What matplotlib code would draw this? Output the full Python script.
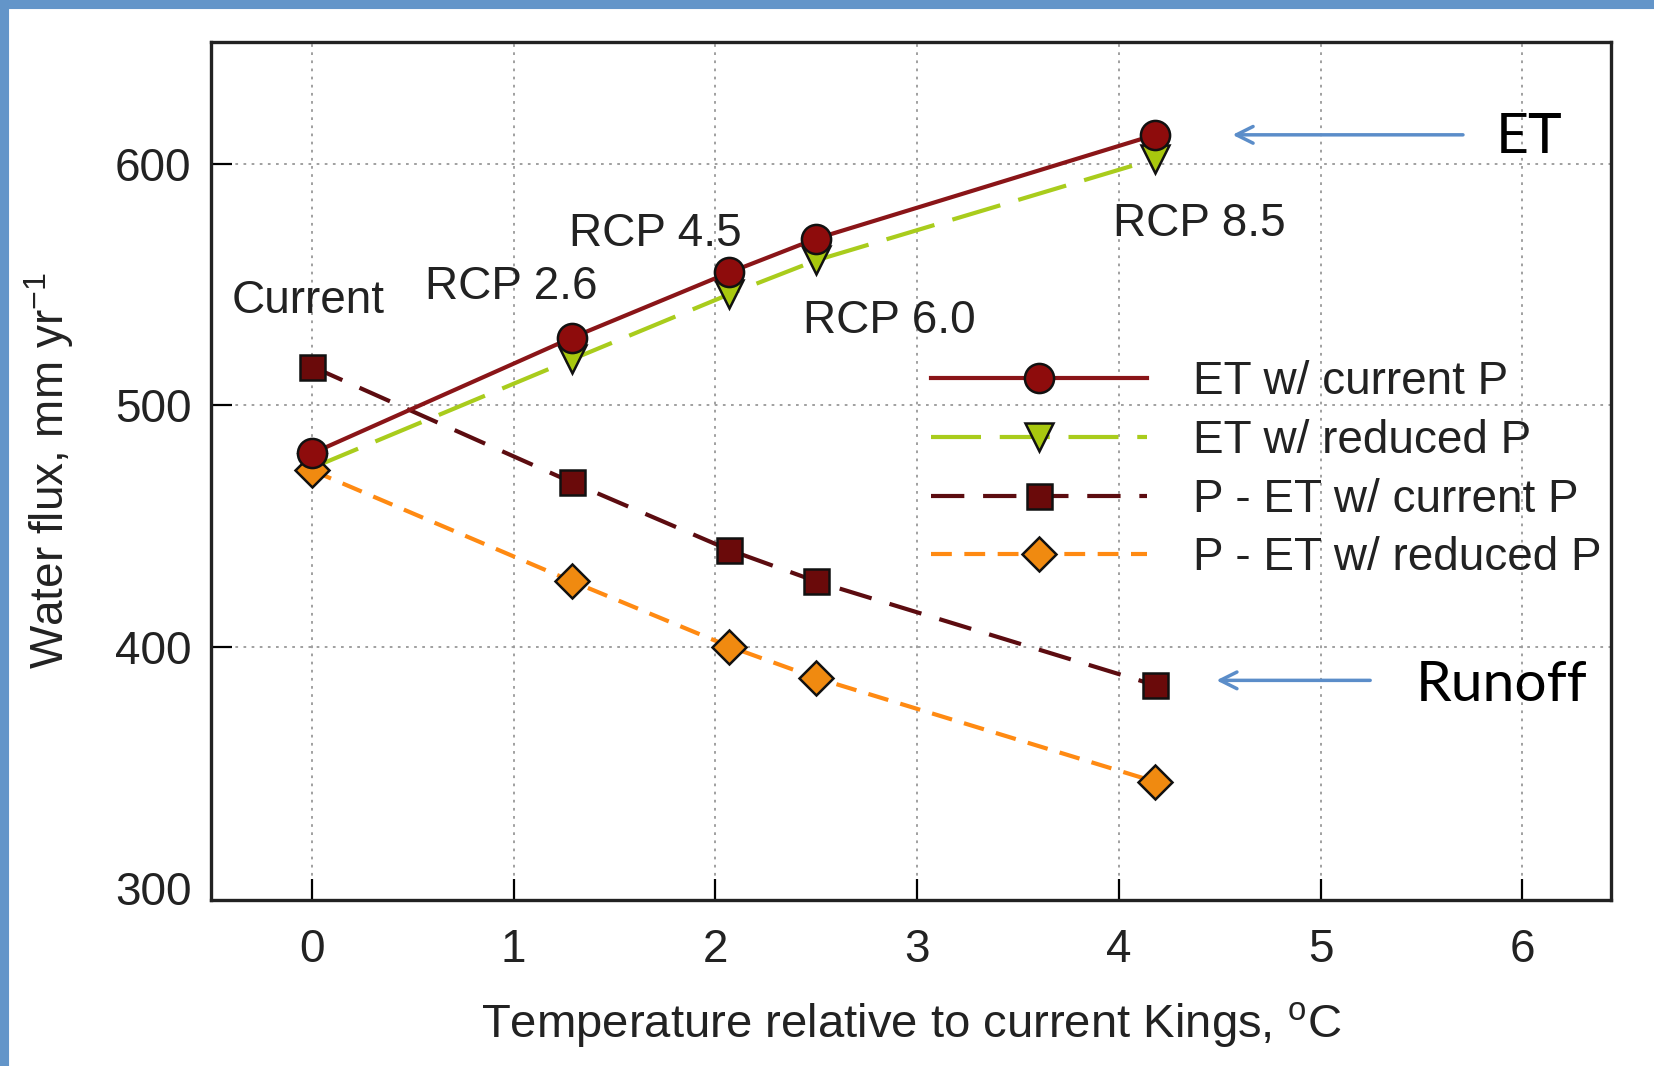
import matplotlib
matplotlib.use("Agg")
import matplotlib.pyplot as plt
from matplotlib.lines import Line2D

plt.rcParams['font.family'] = ['Liberation Sans', 'DejaVu Sans']

# temperature offsets (degC) for Current, RCP 2.6, 4.5, 6.0, 8.5
temp = [0.0, 1.29, 2.07, 2.50, 4.18]
scenarios = ['Current', 'RCP 2.6', 'RCP 4.5', 'RCP 6.0', 'RCP 8.5']
scen_x = [-0.02, 0.99, 1.70, 2.86, 4.40]
scen_y = [543, 549, 571, 535, 575]

et_cur = [480, 528, 555, 569, 612]
et_red = [474, 519, 546, 560, 602]
pet_cur = [516, 468, 440, 427, 384]
pet_red = [473, 427, 400, 387, 344]

series_labels = ['ET w/ current P', 'ET w/ reduced P',
                 'P - ET w/ current P', 'P - ET w/ reduced P']

xticks = [0, 1, 2, 3, 4, 5, 6]
yticks = [300, 400, 500, 600]

fs = 33

fig = plt.figure(figsize=(16.54, 10.66), dpi=100)
ax = fig.add_axes([0.1276, 0.1557, 0.8464, 0.805])

ax.plot(temp, et_cur, '-', color='#8a1518', lw=3, marker='o', ms=21,
        mfc='#8e0c0c', mec='#111111', mew=1.8, label=series_labels[0], zorder=4)
ax.plot(temp, et_red, color='#a9cc1c', lw=3, dashes=(12, 4.5), marker='v', ms=20,
        mfc='#a8c80e', mec='#111111', mew=1.8, label=series_labels[1], zorder=3)
ax.plot(temp, pet_cur, color='#5c0c10', lw=3, dashes=(8, 4.5), marker='s', ms=18,
        mfc='#6a0a0a', mec='#111111', mew=1.8, label=series_labels[2], zorder=3)
ax.plot(temp, pet_red, color='#ff8a12', lw=3, dashes=(5, 3), marker='D', ms=17,
        mfc='#f08a10', mec='#111111', mew=1.8, label=series_labels[3], zorder=3)

for s, x, y in zip(scenarios, scen_x, scen_y):
    ax.text(x, y, s, fontsize=fs, ha='center', va='center', color='#222222')

ax.set_xlim(-0.5, 6.44)
ax.set_ylim(295, 650.5)
ax.set_xticks(xticks)
ax.set_yticks(yticks)
ax.tick_params(direction='in', length=15, width=1.6, labelsize=fs,
               labelcolor='#222222')
ax.tick_params(axis='x', pad=20)
ax.tick_params(axis='y', pad=14)
ax.grid(True, linestyle=(0, (1.5, 3)), color='#999999', lw=1.3)
# the 300 line sits on the bottom frame
ax.get_ygridlines()[0].set_visible(False)
ax.yaxis.get_major_ticks()[0].tick1line.set_visible(False)
for sp in ax.spines.values():
    sp.set_linewidth(2.4)
    sp.set_color('#222222')

ax.set_xlabel('Temperature relative to current Kings, $\\mathregular{^oC}$',
              fontsize=fs + 1, color='#222222', labelpad=20)
ax.set_ylabel('Water flux, mm yr$\\mathregular{^{-1}}$', fontsize=fs,
              color='#222222', labelpad=28)

leg = ax.legend(loc='upper left', bbox_to_anchor=(0.485, 0.677), frameon=False,
                fontsize=fs, handlelength=4.7, handletextpad=1.0,
                labelspacing=0.32, labelcolor='#222222')

# annotation arrows (slide overlay)
ax.annotate('', xy=(4.55, 612), xytext=(5.72, 612),
            arrowprops=dict(arrowstyle='->', color='#5b8dc9', lw=2.5,
                            mutation_scale=30))
ax.annotate('', xy=(4.47, 386), xytext=(5.26, 386),
            arrowprops=dict(arrowstyle='->', color='#5b8dc9', lw=2.5,
                            mutation_scale=30))
ax.text(5.87, 611, 'ET', fontsize=41, family=['Lato', 'DejaVu Sans'],
        va='center', ha='left', color='black', clip_on=False)
ax.text(5.47, 384, 'Runoff', fontsize=41, family=['Lato', 'DejaVu Sans'],
        va='center', ha='left', color='black', clip_on=False)

# slide border on the left and top edges
fig.add_artist(Line2D([0.002, 0.002], [0, 1], color='#6395c9', lw=8,
                      transform=fig.transFigure))
fig.add_artist(Line2D([0, 1], [0.997, 0.997], color='#6395c9', lw=8,
                      transform=fig.transFigure))

fig.savefig('out.png', dpi=100)
